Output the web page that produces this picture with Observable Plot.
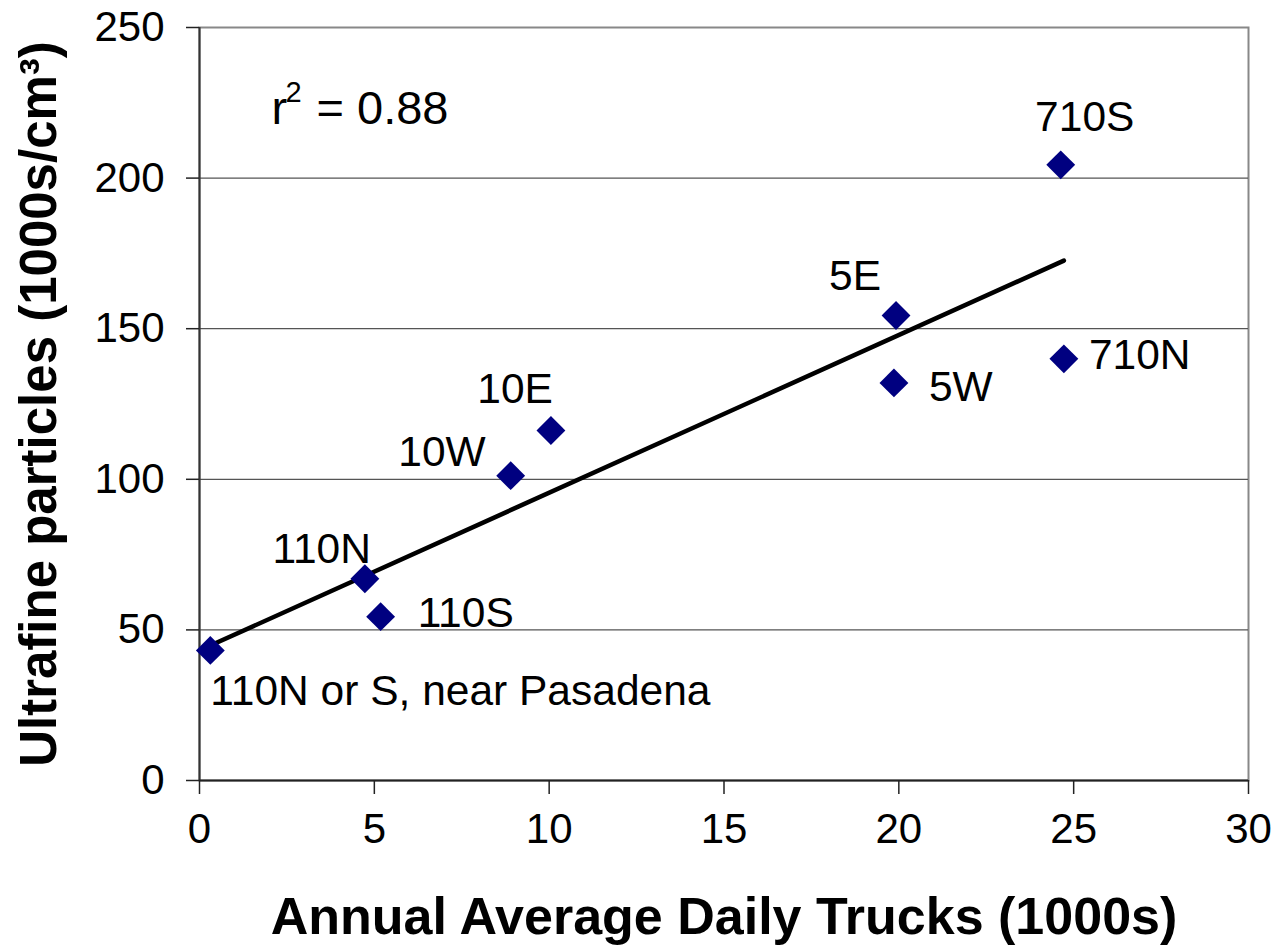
<!DOCTYPE html>
<html>
<head>
<meta charset="utf-8">
<script src="https://cdn.jsdelivr.net/npm/d3@7"></script>
<script src="https://cdn.jsdelivr.net/npm/@observablehq/plot@0.6"></script>
<style>
  html, body { margin: 0; padding: 0; background: #fff; }
  #chart svg { display: block; }
</style>
</head>
<body>
<div id="chart"></div>
<script>
// ---- data ----
const sites = ["110N or S, near Pasadena", "110N", "110S", "10W", "10E", "5E", "5W", "710S", "710N"];
const trucks = [0.31, 4.73, 5.18, 8.90, 10.05, 19.92, 19.86, 24.63, 24.72];       // 1000s
const ultrafine = [43.2, 67.0, 54.4, 101.2, 116.2, 154.4, 132.0, 204.4, 140.0];    // 1000s/cm3
const trendX = [0.31, 24.72];
const trendY = [44.8, 172.6];
const xTicks = [0, 5, 10, 15, 20, 25, 30];
const yTicks = [0, 50, 100, 150, 200, 250];
const gridTicks = [50, 100, 150, 200];
const rSquaredValue = "= 0.88";
const xTitle = "Annual Average Daily Trucks (1000s)";
const yTitle = "Ultrafine particles (1000s/cm\u00B3)";

// ---- label placement (layout, not data) ----
const placement = {
  "110N or S, near Pasadena": {anchor: "start", dx: 0, dy: 55},
  "110N": {anchor: "end", dx: 6, dy: -16},
  "110S": {anchor: "start", dx: 37, dy: 10},
  "10W": {anchor: "end", dx: -25, dy: -10},
  "10E": {anchor: "end", dx: 2, dy: -28},
  "5E": {anchor: "end", dx: -15, dy: -25},
  "5W": {anchor: "start", dx: 35, dy: 18},
  "710S": {anchor: "middle", dx: 24, dy: -34},
  "710N": {anchor: "start", dx: 25, dy: 10}
};

const points = sites.map((s, i) => ({site: s, x: trucks[i], y: ultrafine[i]}));
const trend = trendX.map((x, i) => ({x, y: trendY[i]}));

const labelMarks = points.map(p => {
  const pl = placement[p.site];
  return Plot.text([p], {
    x: "x", y: "y", text: "site",
    textAnchor: pl.anchor, lineAnchor: "bottom",
    dx: pl.dx, dy: pl.dy,
    fontSize: 42.5, fill: "#000"
  });
});

const chart = Plot.plot({
  width: 1277,
  height: 945,
  marginLeft: 199,
  marginRight: 29,
  marginTop: 27,
  marginBottom: 165,
  style: {fontFamily: "'Liberation Sans', Arial, sans-serif", background: "#fff", color: "#000"},
  x: {domain: [0, 30]},
  y: {domain: [0, 250]},
  marks: [
    Plot.frame({stroke: "#888", strokeWidth: 2}),
    Plot.gridY(gridTicks, {stroke: "#555", strokeOpacity: 1, strokeWidth: 1.3}),
    Plot.ruleX([0], {stroke: "#333", strokeWidth: 2}),
    Plot.ruleY([0], {stroke: "#222", strokeWidth: 2}),
    Plot.axisX({ticks: xTicks, tickSize: 14, tickPadding: 19, fontSize: 42, label: null, stroke: "#222", strokeWidth: 1.5, tickFormat: d3.format("d")}),
    Plot.axisY({ticks: yTicks, tickSize: 13, tickPadding: 22, fontSize: 42, label: null, stroke: "#222", strokeWidth: 1.5, tickFormat: d3.format("d")}),
    Plot.line(trend, {x: "x", y: "y", stroke: "#000", strokeWidth: 4.5, strokeLinecap: "round"}),
    Plot.dot(points, {x: "x", y: "y", symbol: "diamond2", r: 13, fill: "#000080", stroke: "none"}),
    ...labelMarks,
    Plot.text(["r"], {frameAnchor: "top-left", text: d => d, textAnchor: "start", lineAnchor: "bottom", dx: 72, dy: 96, fontSize: 47}),
    Plot.text(["2"], {frameAnchor: "top-left", text: d => d, textAnchor: "start", lineAnchor: "bottom", dx: 86, dy: 74, fontSize: 29}),
    Plot.text([rSquaredValue], {frameAnchor: "top-left", text: d => d, textAnchor: "start", lineAnchor: "bottom", dx: 117, dy: 96, fontSize: 47}),
    Plot.text([xTitle], {frameAnchor: "bottom", text: d => d, textAnchor: "middle", lineAnchor: "bottom", dy: 153, fontSize: 52, fontWeight: "bold"}),
    Plot.text([yTitle], {frameAnchor: "left", text: d => d, textAnchor: "middle", lineAnchor: "bottom", rotate: -90, dx: -144, dy: 0, fontSize: 51, fontWeight: "bold"})
  ]
});

document.getElementById("chart").appendChild(chart);
</script>
</body>
</html>
